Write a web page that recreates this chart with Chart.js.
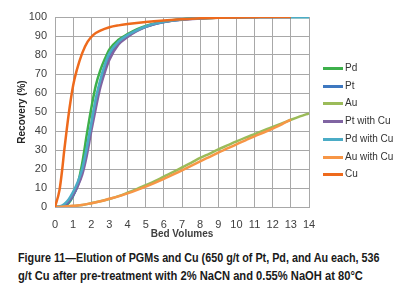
<!DOCTYPE html>
<html>
<head>
<meta charset="utf-8">
<script src="https://cdn.jsdelivr.net/npm/chart.js@4"></script>
<style>
  html, body { margin: 0; padding: 0; background: #ffffff; }
  #wrap { position: relative; width: 397px; height: 288px; overflow: hidden; }
  #c { position: absolute; left: 0; top: 0; }
  #legend { position: absolute; left: 323px; top: 0; }
  .li { position: absolute; left: 0; width: 80px; height: 14px; white-space: nowrap;
        font: 10px "Liberation Sans", Arial, sans-serif; color: #333; }
  .li span.ln { position: absolute; left: 0; top: 6px; width: 20px; height: 3px; }
  .li span.tx { position: absolute; left: 22px; top: 0; line-height: 14px; }
  .cap { position: absolute; left: 18px; white-space: nowrap;
         font: bold 12px "Liberation Sans", Arial, sans-serif;
         line-height: 18px; color: #1a1a1a; transform-origin: 0 0; }
  #cap1 { top: 249px; transform: scaleX(0.897); }
  #cap2 { top: 267px; transform: scaleX(0.93); }
</style>
</head>
<body>
<div id="wrap">
  <canvas id="c" width="397" height="240" style="width:397px;height:240px"></canvas>
  <div id="legend"></div>
  <div class="cap" id="cap1">Figure 11—Elution of PGMs and Cu (650 g/t of Pt, Pd, and Au each, 536</div>
  <div class="cap" id="cap2">g/t Cu after pre-treatment with 2% NaCN and 0.55% NaOH at 80°C</div>
</div>
<script>
// ---- data ----
const seriesNames = ["Pd", "Pt", "Au", "Pt with Cu", "Pd with Cu", "Au with Cu", "Cu"];
const seriesColors = ["#3DB04B", "#3E78C0", "#9BBB59", "#8064A2", "#4BACC6", "#F79646", "#EE6A1C"];

const xTicks = [0,1,2,3,4,5,6,7,8,9,10,11,12,13,14];
const yTicks = [0,10,20,30,40,50,60,70,80,90,100];

// PGM curves share the same bed-volume sampling
const pgmX  = [0,0.25,0.5,0.75,1,1.25,1.5,1.75,2,2.25,2.5,2.75,3,3.5,4,4.5,5,5.5,6,7,8,9,10,11,12,13,14];
const pdY   = [0,0,0.5,2,6,12,23,38,52,64,72,78,83,88,91,93.5,95.3,96.6,97.6,98.8,99.4,99.7,99.9,100,100,100,100];
const ptY   = [0,0,0.5,2.5,6,11,19,30,43,56,66,74,80,86.5,90.2,92.8,94.8,96.3,97.4,98.7,99.3,99.7,99.9,100,100,100,100];
const ptCuY = [0,0,1,3,6.5,11,17,27,40,52,63,71,77.5,85.5,89.5,92.5,94.8,96.3,97.4,98.6,99.2,99.6,99.8,99.9,100,100];
const pdCuY = [0,0.3,1.5,4,8,13,20,31,44,57,67,75,81,87,90.5,93,95,96.5,97.5,98.7,99.3,99.6,99.8,99.9,100,100,100];

const auX   = [0,0.5,1,1.5,2,2.5,3,3.5,4,4.5,5,5.5,6,6.5,7,7.5,8,8.5,9,9.5,10,10.5,11,11.5,12,12.5,13,13.5,14];
const auY   = [0,0.2,0.5,1,2,3,4.2,5.7,7.5,9.4,11.5,13.6,16,18.3,20.8,23.2,25.8,28,30.3,32.4,34.5,36.5,38.4,40.3,42.2,44,45.9,47.7,49.3];
const auCuY = [0,0.2,0.6,1.1,2,3,4.3,5.6,7.2,8.9,10.7,12.7,14.8,17,19.3,21.6,24,26.3,28.6,30.8,33,35.1,37.2,39.2,41.3,43.5,46];

const cuX   = [0,0.25,0.4,0.5,0.65,0.8,1,1.2,1.5,1.8,2.1,2.5,3,3.5,4,5,6,7,8,9,10,11,12,13];
const cuY   = [0,9,20,29,41,52,64,72,81,87,90.5,92.8,94.6,95.6,96.3,97.4,98.2,98.8,99.3,99.6,99.8,99.9,100,100];

const seriesX = [pgmX, pgmX, auX, pgmX, pgmX, auX, cuX];
const seriesY = [pdY, ptY, auY, ptCuY, pdCuY, auCuY, cuY];

function pts(xs, ys) { return ys.map((y, i) => ({ x: xs[i], y: y })); }

const datasets = seriesNames.map((name, i) => ({
  label: name,
  data: pts(seriesX[i], seriesY[i]),
  borderColor: seriesColors[i],
  backgroundColor: seriesColors[i],
  borderWidth: 2.5,
  pointRadius: 0,
  fill: false,
  cubicInterpolationMode: 'monotone',
  order: seriesNames.length - 1 - i
}));

const gridColor = '#a8a8a8';
const tickFont = { family: '"Liberation Sans", Arial, sans-serif', size: 11 };

new Chart(document.getElementById('c'), {
  type: 'line',
  data: { datasets: datasets },
  options: {
    responsive: false,
    devicePixelRatio: 1,
    animation: false,
    layout: { padding: { left: 0, right: 88, top: 17, bottom: 0 } },
    plugins: { legend: { display: false }, tooltip: { enabled: false } },
    scales: {
      x: {
        type: 'linear', min: 0, max: 14,
        afterBuildTicks: s => { s.ticks = xTicks.map(v => ({ value: v })); },
        afterFit: s => { s.height = 33; },
        grid: { color: gridColor, lineWidth: 1, drawTicks: false },
        border: { display: true, color: gridColor },
        ticks: { padding: 11, color: '#404040', font: tickFont, maxRotation: 0, autoSkip: false },
        title: { display: true, text: 'Bed Volumes', color: '#404040',
                 font: { family: '"Liberation Sans", Arial, sans-serif', size: 10, weight: 'bold' },
                 padding: { top: 5, bottom: 0 } }
      },
      y: {
        type: 'linear', min: 0, max: 100,
        afterBuildTicks: s => { s.ticks = yTicks.map(v => ({ value: v })); },
        afterFit: s => { s.width = 55; },
        grid: { color: gridColor, lineWidth: 1, drawTicks: false },
        border: { display: true, color: gridColor },
        ticks: { padding: 8, color: '#404040', font: tickFont },
        title: { display: true, text: 'Recovery (%)', color: '#262626',
                 font: { family: '"Liberation Sans", Arial, sans-serif', size: 10, weight: 'bold' },
                 padding: { top: 16, bottom: 0 } }
      }
    }
  }
});

// legend (HTML) built from the series names and colours
const lg = document.getElementById('legend');
seriesNames.forEach((name, i) => {
  const d = document.createElement('div');
  d.className = 'li';
  d.style.top = (61 + i * 17.7) + 'px';
  d.innerHTML = '<span class="ln" style="background:' + seriesColors[i] + '"></span><span class="tx"></span>';
  d.querySelector('.tx').textContent = name;
  lg.appendChild(d);
});
</script>
</body>
</html>
